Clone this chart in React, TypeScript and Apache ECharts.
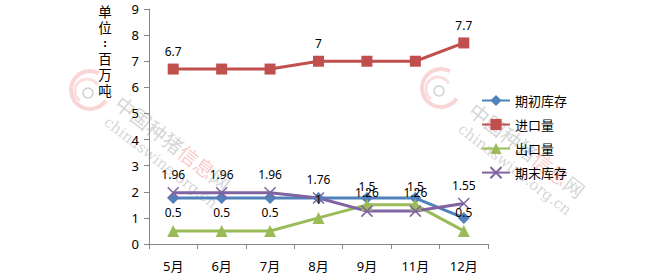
import React, { useEffect, useRef } from "react";
import * as echarts from "echarts";

const categories = ["5月", "6月", "7月", "8月", "9月", "11月", "12月"];
const openingStock = [1.76, 1.76, 1.76, 1.76, 1.76, 1.76, 1.0];
const imports = [6.7, 6.7, 6.7, 7, 7, 7, 7.7];
const exportsVol = [0.5, 0.5, 0.5, 1, 1.5, 1.5, 0.5];
const endingStock = [1.96, 1.96, 1.96, 1.76, 1.26, 1.26, 1.55];
const importLabelIdx = [0, 3, 6];
const yTicks = { min: 0, max: 9, interval: 1 };
const seriesNames = ["期初库存", "进口量", "出口量", "期末库存"];
const unitChars = ["单", "位", ":", "百", "万", "吨"];

const FONT = "'Noto Sans', 'Noto Sans CJK SC', sans-serif";

function watermark(lx: number, ly: number, tx: number, ty: number) {
  const rot = -0.66;
  return [
    { type: "arc", shape: { cx: lx, cy: ly, r: 19, startAngle: 0.6, endAngle: 5.2 }, style: { stroke: "rgba(240,150,150,0.4)", lineWidth: 4, fill: null }, silent: true },
    { type: "arc", shape: { cx: lx - 3, cy: ly + 1, r: 12, startAngle: 2.2, endAngle: 5.8 }, style: { stroke: "rgba(240,150,150,0.3)", lineWidth: 3, fill: null }, silent: true },
    { type: "circle", shape: { cx: lx - 2, cy: ly + 3, r: 5 }, style: { stroke: "rgba(150,150,150,0.45)", lineWidth: 1.5, fill: null }, silent: true },
    {
      type: "text", x: tx, y: ty, rotation: rot, silent: true,
      style: {
        text: "{g|中国种猪}{p|信息}{g|网}", align: "left", verticalAlign: "middle",
        rich: {
          g: { fill: "rgba(150,150,150,0.4)", fontSize: 20, fontFamily: "'Noto Sans CJK SC'" },
          p: { fill: "rgba(240,120,120,0.4)", fontSize: 20, fontFamily: "'Noto Sans CJK SC'" },
        },
      },
    },
    {
      type: "text", x: tx - 12, y: ty + 20, rotation: rot, silent: true,
      style: {
        text: "chinaswine.org.cn", align: "left", verticalAlign: "middle",
        fill: "rgba(150,150,150,0.4)", fontSize: 15, fontFamily: "'DejaVu Serif', serif",
      },
    },
  ];
}

const unitYs = [11, 27, 42, 58, 74, 90];

export default function App() {
  const ref = useRef<HTMLDivElement>(null);
  useEffect(() => {
    if (!ref.current) return;
    const chart = echarts.init(ref.current, null, { renderer: "svg" });
    const labelStyle = { show: true, position: "top", distance: 6, color: "#000", fontSize: 12, fontFamily: FONT };
    const common = { type: "line", z: 3 };
    chart.setOption({
      animation: false,
      backgroundColor: "#fff",
      textStyle: { fontFamily: FONT },
      graphic: [
        ...watermark(90, 90, 118, 100),
        ...watermark(441, 88, 472, 107),
        ...unitChars.map((c, i) => ({
          type: "text", x: 105, y: unitYs[i], z: 10, silent: true,
          style: {
            text: c, fontSize: c === ":" ? 11 : 13.5, lineHeight: c === ":" ? 11 : 13, fill: "#000", fontFamily: "'Noto Sans CJK SC'",
            align: "center", verticalAlign: "middle", fontWeight: c === ":" ? "bold" : "normal",
          },
        })),
      ],
      legend: {
        orient: "vertical", left: 476, top: 89, itemWidth: 28, itemHeight: 14, itemGap: 11,
        textStyle: { fontSize: 13, color: "#000", fontFamily: "'Noto Sans CJK SC'" },
        data: seriesNames,
      },
      grid: { left: 149, right: 172, top: 9, bottom: 33, containLabel: false },
      xAxis: {
        type: "category", data: categories, boundaryGap: true,
        axisLine: { lineStyle: { color: "#868686", width: 1 } },
        axisTick: { show: true, length: 5, lineStyle: { color: "#868686" } },
        axisLabel: { color: "#000", fontSize: 13, margin: 15, fontFamily: FONT },
      },
      yAxis: {
        type: "value", min: yTicks.min, max: yTicks.max, interval: yTicks.interval,
        splitLine: { show: false },
        axisLine: { show: true, lineStyle: { color: "#868686", width: 1 } },
        axisTick: { show: true, length: 5, lineStyle: { color: "#868686" } },
        axisLabel: { color: "#000", fontSize: 13, margin: 10, fontFamily: FONT },
      },
      series: [
        {
          ...common, name: seriesNames[0], data: openingStock,
          symbol: "diamond", symbolSize: 12,
          itemStyle: { color: "#4F81BD" }, lineStyle: { width: 3, color: "#4F81BD" },
        },
        {
          ...common, name: seriesNames[1],
          data: imports.map((v, i) => ({ value: v, label: { show: importLabelIdx.includes(i) } })),
          symbol: "rect", symbolSize: 11,
          itemStyle: { color: "#C0504D" }, lineStyle: { width: 3, color: "#C0504D" },
          label: { ...labelStyle, show: false },
        },
        {
          ...common, name: seriesNames[2], data: exportsVol,
          symbol: "triangle", symbolSize: 12,
          itemStyle: { color: "#9BBB59" }, lineStyle: { width: 3, color: "#9BBB59" },
          label: labelStyle,
        },
        {
          ...common, name: seriesNames[3], data: endingStock,
          symbol: "path://M0,0L10,10M10,0L0,10", symbolSize: 11,
          itemStyle: { color: "#8064A2", borderColor: "#8064A2", borderWidth: 1.5 },
          lineStyle: { width: 3, color: "#8064A2" },
          label: labelStyle,
        },
      ],
    });
    return () => chart.dispose();
  }, []);
  return <div ref={ref} style={{ position: "fixed", left: 0, top: 0, width: 660, height: 277 }} />;
}
